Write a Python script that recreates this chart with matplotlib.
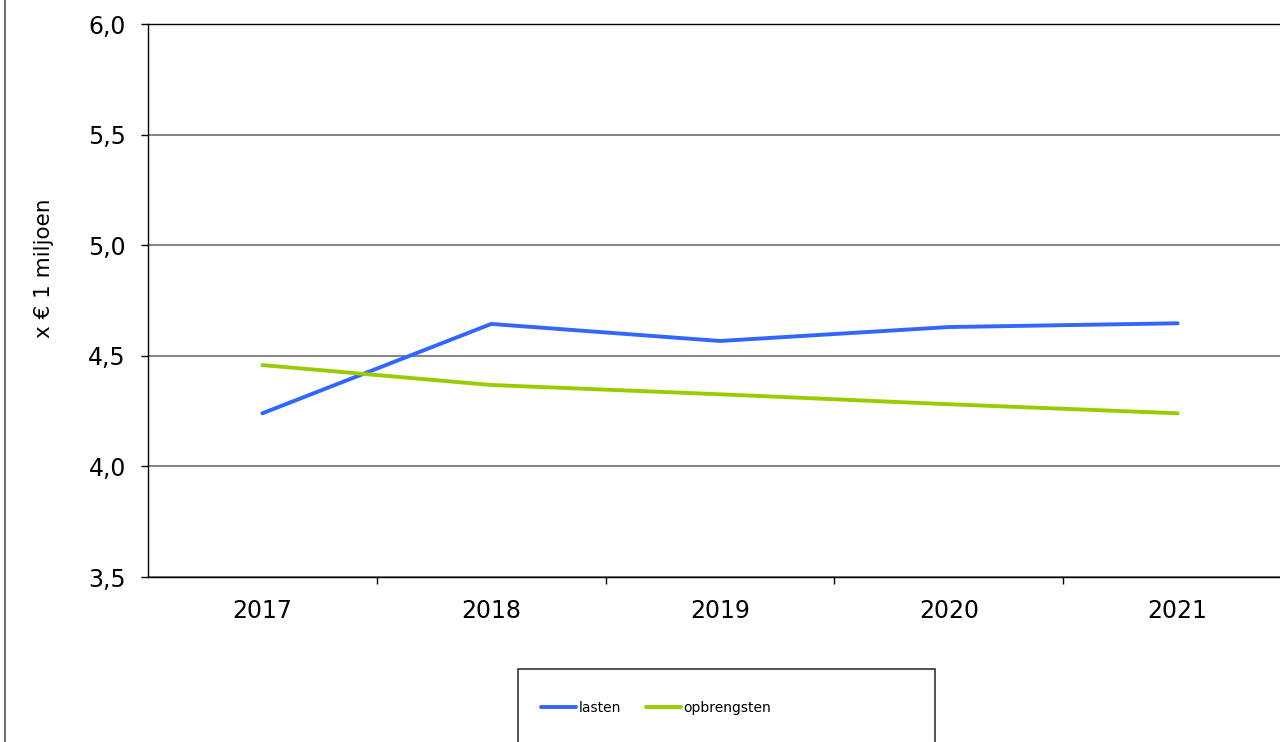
import matplotlib
matplotlib.use("Agg")
import matplotlib.pyplot as plt
from matplotlib.patches import Rectangle
from matplotlib.lines import Line2D

years = ["2017", "2018", "2019", "2020", "2021"]
lasten = [4.24, 4.644, 4.567, 4.63, 4.647]
opbrengsten = [4.458, 4.368, 4.326, 4.281, 4.24]
y_ticks = [3.5, 4.0, 4.5, 5.0, 5.5, 6.0]
y_labels = ["3,5", "4,0", "4,5", "5,0", "5,5", "6,0"]

W, H = 1280, 742
fig = plt.figure(figsize=(W / 100, H / 100), dpi=100)
ax = fig.add_axes([148 / W, (H - 577) / H, (1292 - 148) / W, (577 - 24) / H])

x = list(range(len(years)))
ax.plot(x, lasten, color="#3366ff", lw=2.8, solid_capstyle="round", label="lasten")
ax.plot(x, opbrengsten, color="#99cc00", lw=2.8, solid_capstyle="round", label="opbrengsten")

ax.set_xlim(-0.5, len(years) - 0.5)
ax.set_ylim(3.5, 6.0)
ax.set_yticks(y_ticks)
ax.set_yticklabels(y_labels, fontsize=17)
ax.set_xticks(x)
ax.set_xticklabels(years, fontsize=17)
ax.set_xticks([i + 0.5 for i in x[:-1]], minor=True)
ax.tick_params(axis="x", which="major", length=0, pad=16)
ax.tick_params(axis="x", which="minor", length=5, width=1, direction="out")
ax.tick_params(axis="y", length=5, width=1, direction="out", pad=11)

ax.yaxis.grid(True, color="#707070", lw=1.2)
ax.set_axisbelow(True)
for s in ["left", "bottom", "top"]:
    ax.spines[s].set_color("black")
    ax.spines[s].set_linewidth(1.0)
ax.spines["right"].set_visible(False)

fig.text(44 / W, 1 - 268 / H, "x € 1 miljoen", rotation=90, fontsize=15.5,
         ha="center", va="center")

# left border of the chart frame
fig.add_artist(Line2D([4.5 / W, 4.5 / W], [0, 1], color="#555555", lw=1.2,
                      transform=fig.transFigure))

# legend box
fig.add_artist(Rectangle((518 / W, -0.05), (935 - 518) / W, 0.05 + (H - 669) / H,
                         transform=fig.transFigure, fill=False, edgecolor="#333333", lw=1.2))
fig.legend(loc="center left", bbox_to_anchor=(541 / W, 1 - 708 / H), ncol=2, frameon=False,
           fontsize=10, handlelength=2.5, handletextpad=0.2, columnspacing=1.8,
           borderpad=0, borderaxespad=0)

fig.savefig("out.png", dpi=100)
